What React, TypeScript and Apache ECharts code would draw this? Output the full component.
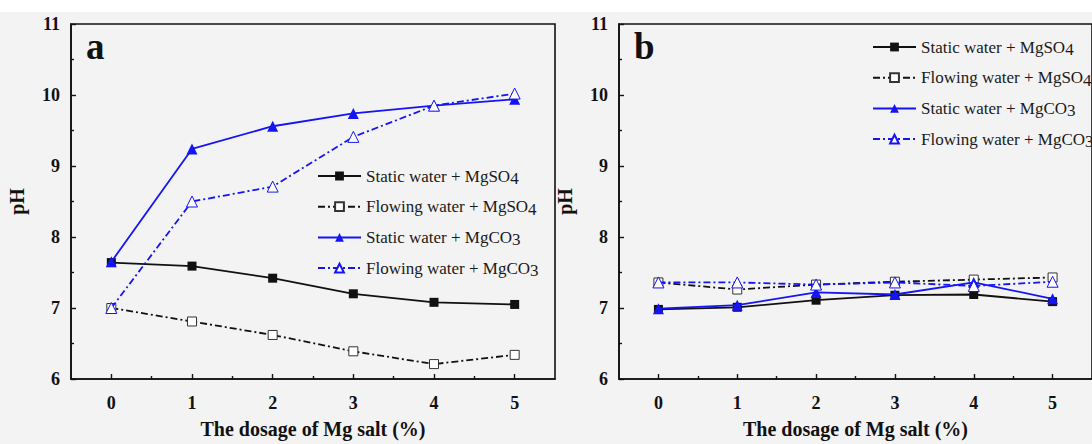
import React, { useEffect, useRef } from "react";
import * as echarts from "echarts";

const doses = [0, 1, 2, 3, 4, 5];
const minorDoses = [0.5, 1.5, 2.5, 3.5, 4.5];
const seriesNames = [
  "Static water + MgSO4",
  "Flowing water + MgSO4",
  "Static water + MgCO3",
  "Flowing water + MgCO3",
];
// Panel a
const aStaticSO4 = [7.64, 7.59, 7.42, 7.2, 7.08, 7.05];
const aFlowSO4 = [7.0, 6.81, 6.62, 6.39, 6.21, 6.34];
const aStaticCO3 = [7.65, 9.24, 9.56, 9.74, 9.85, 9.94];
const aFlowCO3 = [7.0, 8.5, 8.71, 9.41, 9.85, 10.02];
// Panel b
const bStaticSO4 = [6.98, 7.01, 7.11, 7.18, 7.19, 7.09];
const bFlowSO4 = [7.36, 7.26, 7.33, 7.37, 7.4, 7.43];
const bStaticCO3 = [6.99, 7.04, 7.22, 7.19, 7.36, 7.13];
const bFlowCO3 = [7.36, 7.36, 7.33, 7.36, 7.31, 7.37];

const FONT = "Liberation Serif";
const BLUE = "#1414f5";

const pairs = (ys: number[]) => doses.map((x, i) => [x, ys[i]]);

export default function App() {
  const ref = useRef<HTMLDivElement>(null);
  useEffect(() => {
    if (!ref.current) return;
    const chart = echarts.init(ref.current, null, { renderer: "svg" });

    const grids = [
      { left: 71, top: 24, width: 484, height: 358 },
      { left: 619, top: 24, width: 484, height: 358 },
    ];

    const xAxes: any[] = [];
    const yAxes: any[] = [];
    grids.forEach((_, gi) => {
      xAxes.push({
        type: "value",
        gridIndex: gi,
        position: "bottom",
        min: -0.5,
        max: 5.5,
        interval: 0.5,
        name: "The dosage of Mg salt (%)",
        nameLocation: "middle",
        nameGap: 40,
        nameTextStyle: { fontFamily: FONT, fontWeight: "bold", fontSize: 20, color: "#111" },
        axisLine: { show: true, onZero: false, lineStyle: { color: "#111", width: 1.6 } },
        axisTick: { show: true, inside: true, length: 5, customValues: doses, lineStyle: { color: "#111", width: 1.4 } },
        axisLabel: { show: true, customValues: doses, fontFamily: FONT, fontWeight: "bold", fontSize: 18, color: "#111", margin: 15 },
        splitLine: { show: false },
      });
      xAxes.push({
        type: "value",
        gridIndex: gi,
        position: "bottom",
        min: -0.5,
        max: 5.5,
        interval: 0.5,
        axisLine: { show: false, onZero: false },
        axisTick: { show: true, inside: true, length: 3, customValues: minorDoses, lineStyle: { color: "#111", width: 1.4 } },
        axisLabel: { show: false },
        splitLine: { show: false },
      });
      yAxes.push({
        type: "value",
        gridIndex: gi,
        min: 6,
        max: 11,
        interval: 1,
        name: "pH",
        nameLocation: "middle",
        nameGap: 44,
        nameTextStyle: { fontFamily: FONT, fontWeight: "bold", fontSize: 20, color: "#111" },
        axisLine: { show: true, onZero: false, lineStyle: { color: "#111", width: 1.6 } },
        axisTick: { show: true, inside: true, length: 5, lineStyle: { color: "#111", width: 1.4 } },
        minorTick: { show: true, splitNumber: 2, length: 3, lineStyle: { color: "#111", width: 1.4 } },
        axisLabel: { fontFamily: FONT, fontWeight: "bold", fontSize: 18, color: "#111", margin: 11 },
        splitLine: { show: false },
      });
    });

    const styleFor = (k: number) => {
      const color = k < 2 ? "#111" : BLUE;
      const flowing = k % 2 === 1;
      return {
        symbol: k < 2 ? "rect" : "triangle",
        symbolSize: k < 2 ? 9 : 11,
        lineStyle: { color, width: 1.8, type: flowing ? [7, 3, 2, 3] : "solid" },
        itemStyle: flowing
          ? { color: "#fff", borderColor: k < 2 ? "#333" : BLUE, borderWidth: 1 }
          : { color, borderColor: color, borderWidth: 0 },
      };
    };

    const panelData = [
      [aStaticSO4, aFlowSO4, aStaticCO3, aFlowCO3],
      [bStaticSO4, bFlowSO4, bStaticCO3, bFlowCO3],
    ];
    const series: any[] = [];
    panelData.forEach((arrs, gi) => {
      arrs.forEach((ys, k) => {
        series.push({
          type: "line",
          name: seriesNames[k],
          xAxisIndex: gi * 2,
          yAxisIndex: gi,
          data: pairs(ys),
          z: k < 2 ? 3 : 4,
          ...styleFor(k),
        });
      });
    });

    const fmtRich = (name: string) => `{t|${name.slice(0, -1)}}{s|${name.slice(-1)}}`;
    const richText = {
      fontFamily: FONT,
      fontSize: 17,
      color: "#1a1a1a",
      rich: {
        t: { fontFamily: FONT, fontSize: 17, color: "#1a1a1a", lineHeight: 22, verticalAlign: "middle" },
        s: { fontFamily: FONT, fontSize: 17, color: "#1a1a1a", lineHeight: 22, verticalAlign: "bottom", padding: [9, 0, 0, 0] },
      },
    };
    const mkLegend = (left: number, top: number) => ({
      orient: "vertical",
      left,
      top,
      padding: 0,
      itemWidth: 43,
      itemHeight: 11,
      itemGap: 4.7,
      itemTextGap: 5,
      data: seriesNames,
      formatter: fmtRich,
      textStyle: richText,
      selectedMode: false,
    });

    chart.setOption({
      animation: false,
      backgroundColor: "#f3f3f3",
      textStyle: { fontFamily: FONT },
      grid: grids.map((g) => ({ ...g, show: true, borderColor: "#111", borderWidth: 1.6, backgroundColor: "transparent" })),
      xAxis: xAxes,
      yAxis: yAxes,
      legend: [mkLegend(317, 161), mkLegend(872, 32)],
      series,
      graphic: [
        { type: "rect", left: 0, top: 0, shape: { width: 1092, height: 12 }, style: { fill: "#fff" }, z: -10 },
        { type: "text", left: 86, top: 28, style: { text: "a", fontFamily: FONT, fontWeight: "bold", fontSize: 37, fill: "#111" } },
        { type: "text", left: 634, top: 28, style: { text: "b", fontFamily: FONT, fontWeight: "bold", fontSize: 37, fill: "#111" } },
      ],
    });
    return () => chart.dispose();
  }, []);
  return <div ref={ref} style={{ position: "absolute", left: 0, top: 0, width: 1092, height: 444 }} />;
}
